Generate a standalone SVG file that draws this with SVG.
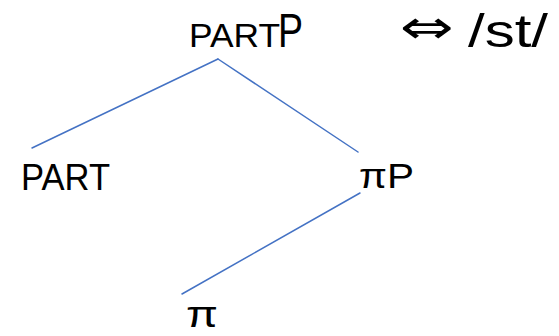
<svg xmlns="http://www.w3.org/2000/svg" width="559" height="336" viewBox="0 0 559 336">
<style>
.t{font-family:"Liberation Sans",Arial,sans-serif;fill:#000}
.e{stroke:#4472c4;stroke-width:1.5;fill:none;stroke-linecap:round}
</style>
<rect width="559" height="336" fill="#fff"/>
<g id="connectors">
<line class="e" x1="218" y1="59" x2="32" y2="148"/>
<line class="e" x1="218" y1="59" x2="358" y2="152"/>
<line class="e" x1="360" y1="193" x2="182" y2="294"/>
</g>
<g id="node-partP">
<text class="t" x="189" y="47" font-size="33" textLength="91" lengthAdjust="spacingAndGlyphs">PART</text>
<text class="t" x="278" y="47" font-size="48" textLength="25" lengthAdjust="spacingAndGlyphs">P</text>
</g>
<g id="label-st">
<text x="400" y="43" font-family="DejaVu Sans,sans-serif" font-size="46" textLength="54" lengthAdjust="spacingAndGlyphs">⇔</text>
<text class="t" x="468" y="47" font-size="46" textLength="80" lengthAdjust="spacingAndGlyphs">/st/</text>
</g>
<g id="node-part">
<text class="t" x="21" y="190" font-size="37" textLength="89" lengthAdjust="spacingAndGlyphs">PART</text>
</g>
<g id="node-piP">
<text class="t" x="359" y="188" font-size="35" textLength="55" lengthAdjust="spacingAndGlyphs">πP</text>
</g>
<g id="node-pi">
<text class="t" x="186" y="327" font-size="36" textLength="32" lengthAdjust="spacingAndGlyphs">π</text>
</g>
</svg>
